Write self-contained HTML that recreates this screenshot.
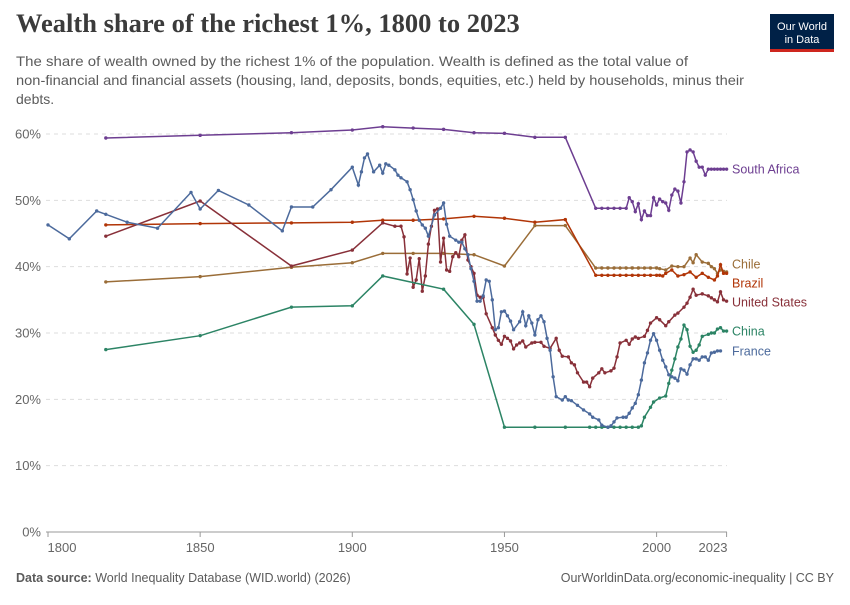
<!DOCTYPE html>
<html><head><meta charset="utf-8"><style>
body{margin:0;background:#fff;}
#wrap{position:relative;width:850px;height:600px;font-family:"Liberation Sans",sans-serif;}
</style></head><body>
<div id="wrap">
<svg id="svg" width="850" height="600" xmlns="http://www.w3.org/2000/svg">
<text x="16" y="32" font-family="Liberation Serif,serif" font-weight="bold" font-size="26.5" fill="#3b3b3b">Wealth share of the richest 1%, 1800 to 2023</text>
<g font-size="14" fill="#5b5b5b">
<text x="16" y="66" textLength="672" lengthAdjust="spacingAndGlyphs">The share of wealth owned by the richest 1% of the population. Wealth is defined as the total value of</text>
<text x="16" y="85" textLength="728" lengthAdjust="spacingAndGlyphs">non-financial and financial assets (housing, land, deposits, bonds, equities, etc.) held by households, minus their</text>
<text x="16" y="104">debts.</text>
</g>
<g>
<rect x="770" y="14" width="64" height="38" fill="#002147"/>
<rect x="770" y="49" width="64" height="3" fill="#ce261e"/>
<text x="802" y="30" font-size="11" fill="#fff" text-anchor="middle">Our World</text>
<text x="802" y="43" font-size="11" fill="#fff" text-anchor="middle">in Data</text>
</g>
<g id="grid"></g><g id="series"></g><g id="labels"></g>
<text x="16" y="582" font-size="12.5" fill="#5b5b5b"><tspan font-weight="bold">Data source:</tspan> World Inequality Database (WID.world) (2026)</text>
<text x="834" y="582" font-size="12.5" fill="#5b5b5b" text-anchor="end">OurWorldinData.org/economic-inequality | CC BY</text>
</svg>
</div>
<script>
const yTicks=[0,10,20,30,40,50,60];
const xTicks=[1800,1850,1900,1950,2000,2023];
const saYears=[1819,1850,1880,1900,1910,1920,1930,1940,1950,1960,1970,1980,1982,1984,1986,1988,1990,1991,1992,1993,1994,1995,1996,1997,1998,1999,2000,2001,2002,2003,2004,2005,2006,2007,2008,2009,2010,2011,2012,2013,2014,2015,2016,2017,2018,2019,2020,2021,2022,2023];
const saVals=[59.4,59.8,60.2,60.6,61.1,60.9,60.7,60.2,60.1,59.5,59.5,48.8,48.8,48.8,48.8,48.8,48.8,50.4,49.8,48.3,49.5,47.1,48.4,47.7,47.7,50.4,49.3,50.2,49.8,49.6,48.5,50.8,51.7,51.4,49.6,52.8,57.3,57.6,57.3,55.9,55.0,55.0,53.8,54.7,54.7,54.7,54.7,54.7,54.7,54.7];
const frYears=[1800,1807,1816,1819,1826,1836,1847,1850,1856,1866,1877,1880,1887,1893,1900,1902,1903,1904,1905,1907,1909,1910,1911,1912,1914,1915,1916,1918,1919,1920,1921,1922,1923,1924,1925,1927,1929,1930,1931,1932,1934,1935,1936,1937,1938,1939,1940,1941,1942,1943,1944,1945,1946,1947,1948,1949,1950,1951,1952,1953,1955,1956,1957,1958,1959,1960,1961,1962,1963,1964,1965,1966,1967,1969,1970,1971,1972,1974,1976,1978,1979,1981,1982,1984,1985,1986,1987,1989,1990,1991,1992,1993,1994,1995,1996,1997,1998,1999,2000,2001,2002,2003,2004,2005,2006,2007,2008,2009,2010,2011,2012,2013,2014,2015,2016,2017,2018,2019,2020,2021,2022,2023];
const frVals=[46.3,44.2,48.4,47.9,46.7,45.8,51.2,48.7,51.5,49.3,45.4,49.0,49.0,51.6,55.0,52.3,54.3,56.4,57.0,54.3,55.3,54.1,55.5,55.3,54.6,53.8,53.4,52.8,51.6,50.1,48.4,47.0,46.3,45.8,44.6,47.8,48.8,49.6,46.4,44.6,44.0,43.7,43.7,42.7,41.8,39.7,37.8,34.8,34.8,35.6,38.0,37.8,35.0,30.5,30.8,33.2,33.3,32.6,31.8,30.5,31.7,33.2,31.1,32.6,31.5,29.7,32.0,32.6,31.7,29.2,27.4,23.4,20.4,19.9,20.4,19.9,19.8,19.1,18.4,17.8,17.3,16.9,16.1,15.8,16.0,16.6,17.2,17.3,17.3,17.9,18.7,19.4,20.7,22.9,25.5,27.0,28.9,29.9,28.9,27.4,25.9,24.9,23.7,23.4,23.2,22.8,24.6,24.4,23.8,25.2,26.1,26.1,25.9,26.4,26.4,25.9,27.0,27.1,27.3,27.3];
const usYears=[1819,1850,1880,1900,1910,1914,1916,1917,1918,1919,1920,1921,1922,1923,1924,1925,1926,1927,1928,1929,1930,1931,1932,1933,1934,1935,1936,1937,1938,1939,1940,1941,1942,1943,1944,1946,1947,1948,1949,1950,1951,1952,1953,1954,1955,1956,1957,1959,1960,1962,1963,1965,1967,1968,1969,1971,1972,1973,1974,1976,1977,1978,1979,1981,1982,1983,1985,1986,1987,1988,1990,1991,1992,1993,1994,1996,1997,1998,2000,2001,2003,2004,2006,2007,2009,2010,2011,2012,2013,2015,2017,2018,2019,2020,2021,2022,2023];
const usVals=[44.6,49.9,40.1,42.5,46.6,46.1,46.1,44.5,38.9,41.3,36.9,38.0,41.2,36.3,38.6,43.4,46.1,48.5,48.7,40.7,44.3,39.5,39.3,41.5,42.1,41.5,44.0,44.8,41.0,40.0,39.0,35.7,35.4,35.4,32.9,30.8,29.7,28.9,28.3,29.5,29.2,28.8,27.6,28.2,28.5,28.8,27.9,28.5,28.6,28.6,28.0,27.7,29.2,27.4,26.5,26.4,25.5,25.2,24.0,22.6,22.6,21.9,23.2,24.0,24.6,24.0,24.3,24.7,26.4,28.5,28.9,28.3,29.1,29.4,29.2,29.5,30.4,31.5,32.3,32.0,31.1,31.7,32.7,33.0,33.9,34.5,35.4,36.6,35.7,35.9,35.6,35.3,35.0,34.7,36.2,35.0,34.8];
const brYears=[1819,1850,1880,1900,1910,1920,1930,1940,1950,1960,1970,1980,1982,1984,1986,1988,1990,1992,1994,1996,1998,2000,2001,2002,2003,2005,2007,2009,2011,2013,2015,2017,2019,2020,2021,2022,2023];
const brVals=[46.3,46.5,46.6,46.7,47.0,47.0,47.2,47.6,47.3,46.7,47.1,38.7,38.7,38.7,38.7,38.7,38.7,38.7,38.7,38.7,38.7,38.7,38.7,38.6,39.0,39.5,38.6,38.8,39.2,38.4,39.0,38.4,38.0,38.6,40.3,39.0,39.0];
const clYears=[1819,1850,1880,1900,1910,1920,1930,1940,1950,1960,1970,1980,1982,1984,1986,1988,1990,1992,1994,1996,1998,2000,2001,2003,2005,2007,2009,2011,2012,2013,2015,2017,2018,2019,2020,2021,2022,2023];
const clVals=[37.7,38.5,39.9,40.6,42.0,42.0,42.0,41.8,40.1,46.2,46.2,39.8,39.8,39.8,39.8,39.8,39.8,39.8,39.8,39.8,39.8,39.8,39.7,39.5,40.1,40.0,40.0,41.3,40.6,41.8,40.7,40.5,40.0,39.7,39.0,39.5,39.3,39.2];
const cnYears=[1819,1850,1880,1900,1910,1930,1940,1950,1960,1970,1978,1980,1982,1984,1986,1988,1990,1992,1994,1995,1996,1998,1999,2001,2003,2004,2005,2006,2007,2008,2009,2010,2011,2012,2013,2014,2015,2017,2018,2019,2020,2021,2022,2023];
const cnVals=[27.5,29.6,33.9,34.1,38.6,36.6,31.3,15.8,15.8,15.8,15.8,15.8,15.8,15.8,15.8,15.8,15.8,15.8,15.8,16.0,17.3,18.8,19.6,20.2,20.5,22.4,24.4,26.1,27.9,29.1,31.2,30.5,28.0,27.1,27.4,28.2,29.5,29.8,30.0,30.0,30.6,30.8,30.3,30.3];
const seriesNames=["South Africa","Chile","Brazil","United States","China","France"];
const seriesColors=["#6d3e91","#9a6d38","#b13507","#883039","#2c8465","#4c6a9c"];
const labelY=[169,264,283,302,331,351];

const X=y=>48+(y-1800)*3.043;
const Y=v=>532-v*6.633;
const ns="http://www.w3.org/2000/svg";
function mk(tag,parent){const e=document.createElementNS(ns,tag);parent.appendChild(e);return e;}
const grid=document.getElementById('grid');
yTicks.forEach(t=>{
  const l=mk('line',grid);
  
  
  l.setAttribute('x1',46);l.setAttribute('x2',727);l.setAttribute('y1',Y(t));l.setAttribute('y2',Y(t));
  l.setAttribute('stroke',t===0?'#999':'#ddd');
  if(t!==0)l.setAttribute('stroke-dasharray','4,4');
  const tx=mk('text',grid);
  
  
  tx.setAttribute('x',41);tx.setAttribute('y',Y(t)+4.5);tx.setAttribute('text-anchor','end');
  tx.setAttribute('font-size','13');tx.setAttribute('fill','#666');tx.textContent=t+'%';
});
xTicks.forEach(t=>{
  const l=mk('line',grid);
  
  
  l.setAttribute('x1',X(t));l.setAttribute('x2',X(t));l.setAttribute('y1',532);l.setAttribute('y2',537);l.setAttribute('stroke','#999');
  const tx=mk('text',grid);
  
  
  let xx=X(t);if(t===1800)xx=62;if(t===2023)xx=713;
  tx.setAttribute('x',xx);tx.setAttribute('y',552);tx.setAttribute('text-anchor','middle');
  tx.setAttribute('font-size','13');tx.setAttribute('fill','#666');tx.textContent=t;
});
const data=[[saYears,saVals],[clYears,clVals],[brYears,brVals],[usYears,usVals],[cnYears,cnVals],[frYears,frVals]];
const sg=document.getElementById('series'),lg=document.getElementById('labels');
data.forEach((d,i)=>{
  const g=mk('g',sg);
  
  
  const n=Math.min(d[0].length,d[1].length);
  let pts=[];for(let k=0;k<n;k++)pts.push(X(d[0][k]).toFixed(1)+','+Y(d[1][k]).toFixed(1));
  const p=mk('polyline',g);
  
  
  p.setAttribute('points',pts.join(' '));p.setAttribute('fill','none');p.setAttribute('stroke',seriesColors[i]);p.setAttribute('stroke-width','1.5');
  for(let k=0;k<n;k++){
    const c=mk('circle',g);
    
    
    c.setAttribute('cx',X(d[0][k]));c.setAttribute('cy',Y(d[1][k]));c.setAttribute('r','1.7');c.setAttribute('fill',seriesColors[i]);
  }
  const t=mk('text',lg);
  
  
  t.setAttribute('x',732);t.setAttribute('y',labelY[i]+4.5);t.setAttribute('font-size','12.5');t.setAttribute('fill',seriesColors[i]);
  t.textContent=seriesNames[i];
});
</script>
</body></html>
